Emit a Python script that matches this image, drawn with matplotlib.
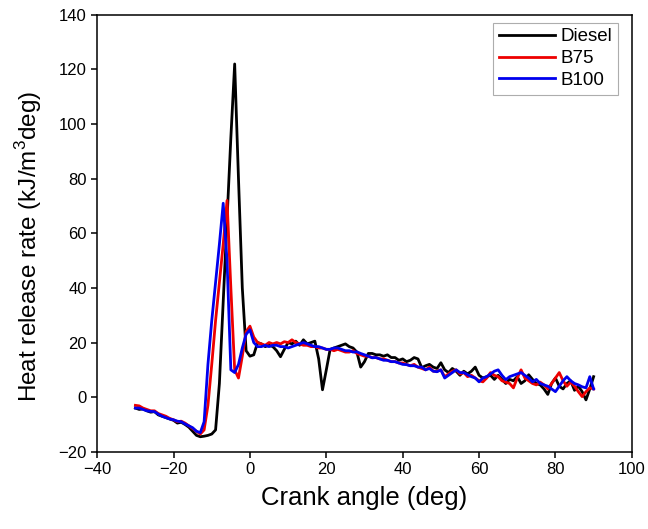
import numpy as np
import matplotlib
matplotlib.use("Agg")
import matplotlib.pyplot as plt

plt.rcParams['font.family'] = ['Liberation Sans', 'DejaVu Sans']
plt.rcParams['mathtext.fontset'] = 'custom'
plt.rcParams['mathtext.rm'] = 'Liberation Sans'

crank_angle = list(range(-30, 91))

diesel = [
    -4.0, -4.5, -4.3, -5.0, -5.5, -5.3, -6.5, -7.0, -7.5, -8.0,   # -30..-21
    -8.5, -9.5, -9.2, -10.0, -11.0, -12.5, -14.0, -14.5, -14.3, -14.0,  # -20..-11
    -13.5, -12.0, 5, 35, 65, 95, 122, 80, 40, 17,   # -10..-1
    15, 15.5, 20, 19.5, 18.5, 19, 18.5, 17, 14.8, 17.5,   # 0..9
    20, 19.5, 20.5, 19, 21, 19.5, 20, 20.5, 14, 2.7,   # 10..19
    10, 17.5, 18, 18.5, 19, 19.5, 18.5, 18, 16.5, 11,   # 20..29
    13, 16, 16, 15.5, 15.5, 15, 15.5, 14.5, 14.5, 13.5,   # 30..39
    14, 13, 13.5, 14.5, 14, 10.8, 11.5, 12, 11, 10.5,   # 40..49
    12.6, 10, 9, 10.5, 9.5, 8, 9.5, 8.5, 9.5, 11,   # 50..59
    8, 7, 7.5, 8, 6.5, 8, 6.5, 5, 6.5, 6,   # 60..69
    7.5, 5, 6, 8.2, 6.5, 5, 4.5, 3, 1, 5,   # 70..79
    7, 4, 3, 5, 6, 2.5, 4, 2, -1, 3,   # 80..89
    7.5,   # 90
]

b75 = [
    -3.0, -3.2, -4.0, -4.5, -5.0, -5.0, -6.0, -6.5, -7.0, -7.8,
    -8.3, -9.0, -8.8, -9.5, -10.5, -11.5, -12.5, -13.5, -12.0, -3,
    12, 28, 42, 56, 72, 40, 10, 7, 15, 24,
    26, 22, 20, 19.5, 19, 20, 19.5, 20, 19.5, 20.3,
    20, 21, 20, 19.5, 19, 19, 18.5, 18.5, 18, 18,
    17.5, 17.5, 17, 17.5, 17, 16.5, 16.5, 17, 16, 15.5,
    15, 15, 14.5, 14.5, 14, 14, 13.5, 13, 13, 12.5,
    12.5, 12, 11.5, 12, 11, 10.5, 10, 11, 9.5, 9.5,
    10, 7.5, 8.5, 9.5, 10, 8.5, 9, 7.5, 8, 7,
    6, 5.6, 7, 9, 8, 7.5, 6, 5.5, 5, 3.4,
    7, 10, 7, 6, 5, 4.5, 5.5, 4.5, 3, 5,
    7, 9, 6, 4, 5.5, 4, 2, 0.2, 2, 3.4,
    3,
]

b100 = [
    -4.0, -4.0, -4.5, -5.0, -5.2, -5.3, -6.2, -7.0, -7.5, -8.0,
    -8.3, -8.8, -9.0, -9.8, -10.5, -11.2, -12.5, -13.0, -9, 12,
    28, 42, 56, 71, 50, 10, 9, 12, 18, 23,
    24.7, 20, 18.5, 18.5, 19, 18.5, 19, 19, 18.5, 18.5,
    18, 18.5, 19, 19.5, 20, 19.5, 19, 18.5, 18.5, 18,
    17.5, 17.5, 18, 18, 17.5, 17, 17, 16.5, 16.6, 16,
    15.5, 15, 14.4, 14.5, 14, 13.5, 13.5, 13, 13, 12.5,
    12, 11.9, 11.5, 11.5, 11, 11, 10, 10.5, 9.5, 9.3,
    10, 7, 8, 9, 10, 9, 9, 8.2, 7.5, 7,
    5.6, 7, 7.5, 8.5, 9.5, 10, 8, 6.4, 7.5, 8,
    8.5, 9, 8, 7, 5.6, 6.5, 5, 4.5, 4, 3,
    2, 4, 6, 7.5, 6, 5, 4.5, 3.8, 3.4, 7.5,
    3,
]

fig = plt.figure(figsize=(6.48, 5.29), dpi=100)
ax = fig.add_axes([0.150, 0.146, 0.825, 0.826])

ax.plot(crank_angle, diesel, color='black', lw=2.0, label='Diesel')
ax.plot(crank_angle, b75, color='#ee0000', lw=2.0, label='B75')
ax.plot(crank_angle, b100, color='#0000ee', lw=2.0, label='B100')

ax.set_xlim(-40, 100)
ax.set_ylim(-20, 140)
ax.set_xticks(range(-40, 101, 20))
ax.set_yticks(range(-20, 141, 20))
ax.tick_params(direction='out', length=4, width=1.1, labelsize=12, top=False, right=False)
for s in ax.spines.values():
    s.set_linewidth(1.1)

ax.set_xlabel('Crank angle (deg)', fontsize=18.5, labelpad=6)
ax.set_ylabel('Heat release rate (kJ/m$^3$deg)', fontsize=17.5)
ax.yaxis.set_label_coords(-0.10, 0.47)

leg = ax.legend(loc='upper right', bbox_to_anchor=(0.974, 0.982), borderaxespad=0,
                fontsize=13.5, frameon=True, fancybox=False,
                edgecolor='#999999', handlelength=3.0, handletextpad=0.3,
                borderpad=0.3, labelspacing=0.25)
leg.get_frame().set_linewidth(0.8)

fig.savefig('out.png', dpi=100)
